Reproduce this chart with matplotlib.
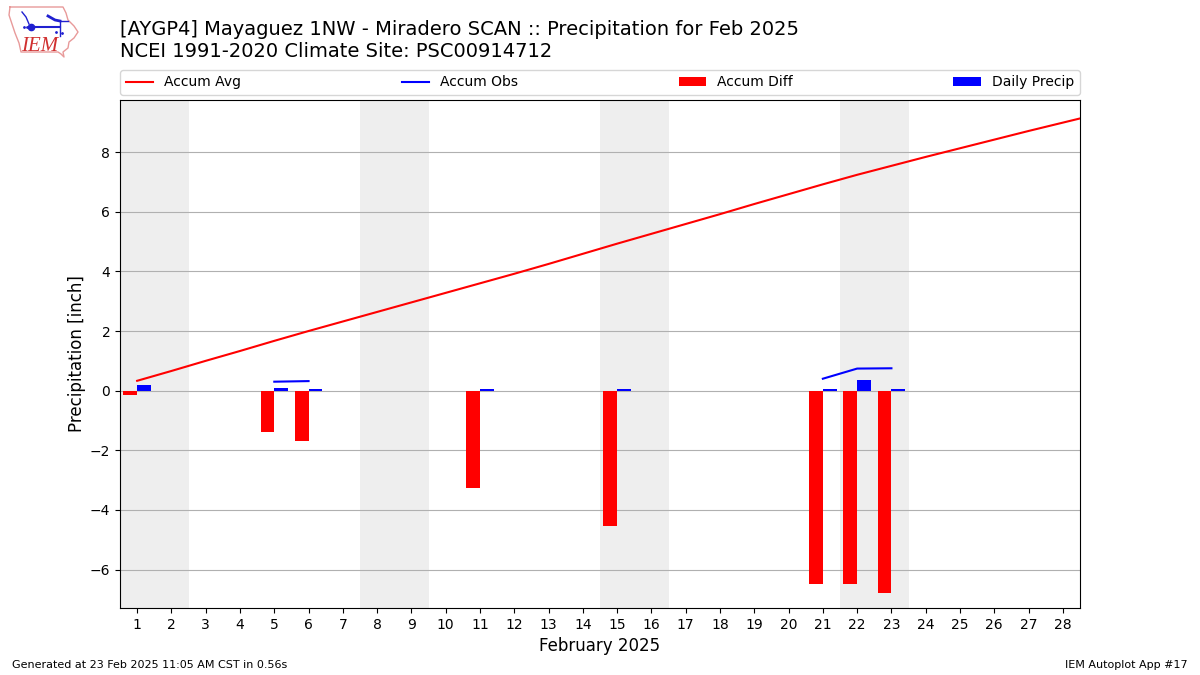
#IEM autoplot 17 - daily precipitation for a month
import matplotlib
matplotlib.use('Agg')
import matplotlib.pyplot as plt

nan = float('nan')

#data, day 29 only exists so the line runs out of the axes
days = list(range(1, 29))
avg_days = list(range(1, 30))
accum_avg = [0.33, 0.66, 1.00, 1.33, 1.67, 2.00, 2.32, 2.64, 2.96, 3.28,
             3.60, 3.92, 4.25, 4.59, 4.93, 5.26, 5.59, 5.92, 6.26, 6.59,
             6.92, 7.24, 7.54, 7.84, 8.13, 8.42, 8.71, 8.99, 9.27]
accum_obs = [nan, nan, nan, nan, 0.30, 0.32, nan, nan, nan, nan,
             nan, nan, nan, nan, nan, nan, nan, nan, nan, nan,
             0.40, 0.74, 0.75, nan, nan, nan, nan, nan]
accum_diff = [-0.13, 0, 0, 0, -1.38, -1.68, 0, 0, 0, 0,
              -3.25, 0, 0, 0, -4.55, 0, 0, 0, 0, 0,
              -6.50, -6.48, -6.78, 0, 0, 0, 0, 0]
daily_precip = [0.20, 0, 0, 0, 0.10, 0.04, 0, 0, 0, 0,
                0.04, 0, 0, 0, 0.04, 0, 0, 0, 0, 0,
                0.07, 0.35, 0.04, 0, 0, 0, 0, 0]
weekends = [(0.5, 2.5), (7.5, 9.5), (14.5, 16.5), (21.5, 23.5)]

fig = plt.figure(figsize=(12, 6.75), dpi=100)
ax = fig.add_axes([0.1, 0.0993, 0.8, 0.7526])

#weekend shading
for start, end in weekends:
    ax.axvspan(start, end, color='#eeeeee', lw=0, zorder=0)

ax.bar(days, accum_diff, width=-0.4, align='edge', color='r', label='Accum Diff', zorder=3)
ax.bar(days, daily_precip, width=0.4, align='edge', color='b', label='Daily Precip', zorder=3)
ax.plot(avg_days, accum_avg, color='r', label='Accum Avg', zorder=4)
ax.plot(days, accum_obs, color='b', label='Accum Obs', zorder=4)

ax.set_xlim(0.5, 28.5)
ax.set_ylim(-7.29, 9.75)
ax.set_xticks(days)
ax.set_yticks([-6, -4, -2, 0, 2, 4, 6, 8])
ax.tick_params(labelsize=10)
ax.yaxis.grid(True, zorder=1)
ax.set_axisbelow(True)
ax.set_xlabel('February 2025', fontsize=12, labelpad=3.5)
ax.set_ylabel('Precipitation [inch]', fontsize=12, labelpad=3)

#legend goes in a strip above the axes, same order as the original
handles, labels = ax.get_legend_handles_labels()
order = [labels.index(n) for n in ['Accum Avg', 'Accum Obs', 'Accum Diff', 'Daily Precip']]
ax.legend([handles[i] for i in order], [labels[i] for i in order], ncol=4, mode='expand',
          loc='lower left', bbox_to_anchor=(0, 1.0099, 1, 0.05), borderaxespad=0, fontsize=10)

fig.text(0.1, 0.909, '[AYGP4] Mayaguez 1NW - Miradero SCAN :: Precipitation for Feb 2025\n'
         'NCEI 1991-2020 Climate Site: PSC00914712', fontsize=14, va='bottom', ha='left', linespacing=1.2)
fig.text(0.01, 0.0104, 'Generated at 23 Feb 2025 11:05 AM CST in 0.56s', fontsize=8)
fig.text(0.99, 0.0104, 'IEM Autoplot App #17', fontsize=8, ha='right')

#little IEM logo, drawn in figure pixels
logo = fig.add_axes([0, 0, 1, 1], zorder=5)
logo.set_xlim(0, 1200)
logo.set_ylim(675, 0)
logo.axis('off')
outline_x = [10, 63, 66, 68, 74, 78, 74, 69, 68, 63, 64, 61, 58, 21, 19, 15, 12, 9, 10]
outline_y = [7, 7, 13, 20, 26, 32, 38, 42, 48, 52, 57, 54, 52, 52, 43, 33, 24, 15, 7]
logo.plot(outline_x, outline_y, color='#e89a9a', lw=1)
logo.text(21, 51, 'IEM', family='Liberation Serif', style='italic', color='#d03030', fontsize=15, va='baseline')
logo.plot([32, 60], [27, 27], color='#2020d0', lw=1.5)
logo.plot([60, 60], [21, 36], color='#2020d0', lw=1)
logo.plot([48, 55, 60], [16, 20, 21], color='#2020d0', lw=2)
logo.plot([60, 68], [21, 21], color='#2020d0', lw=1)
logo.plot([22, 26, 29], [12, 17, 24], color='#2020d0', lw=1)
logo.plot([31], [27], marker='o', color='#2020d0', ms=4.5)
logo.plot([24, 27, 56, 62], [27, 27, 32, 33], color='#2020d0', lw=0, marker='.', ms=2)

fig.savefig('out.png', dpi=100)
